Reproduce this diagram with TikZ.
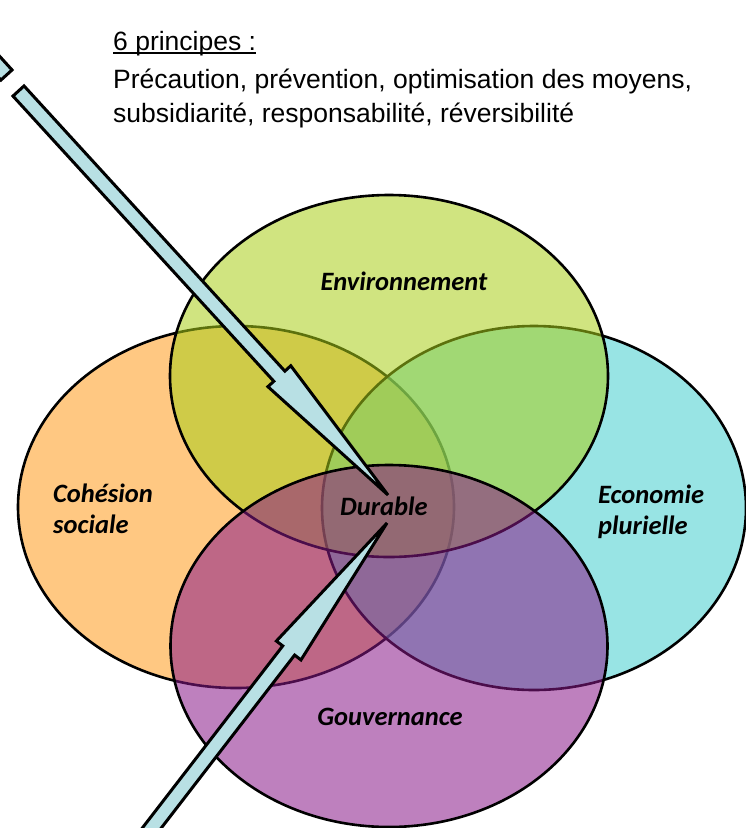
\documentclass[tikz,border=0pt]{standalone}
\usepackage{fontspec}
\setmainfont{Liberation Sans}
\newfontfamily\labelfont{Carlito}
\usetikzlibrary{calc,shapes.geometric}

% set colours (used with partial fill opacity)
\definecolor{cohcol}{RGB}{255,155,28}
\definecolor{ecocol}{RGB}{68,206,206}
\definecolor{envcol}{RGB}{169,206,24}
\definecolor{govcol}{RGB}{137,24,137}
\definecolor{arrowcol}{RGB}{184,224,228}

\tikzset{
  setshape/.style={ellipse, draw=black, line width=2.6pt, fill opacity=0.55,
    inner sep=0pt, minimum width=#1},
  lbl/.style={font=\labelfont\bfseries\itshape\fontsize{26.5}{31.5}\selectfont,
    text=black, inner sep=0pt},
  blockarrow/.style={draw=black, line width=3pt, fill=arrowcol, line join=miter},
  headtext/.style={font=\fontsize{26.5}{34}\selectfont, inner sep=0pt, anchor=base west}
}

% block arrow from tail #1 to tip #2, head base at #3
\newcommand\blockarrowshape[3]{%
  \draw[blockarrow]
    ($(#1)!7.5pt!90:(#2)$) -- ($(#3)!7.5pt!90:(#2)$) -- ($(#3)!15.5pt!90:(#2)$)
    -- (#2)
    -- ($(#3)!15.5pt!-90:(#2)$) -- ($(#3)!7.5pt!-90:(#2)$) -- ($(#1)!7.5pt!-90:(#2)$)
    -- cycle;}

\begin{document}
\begin{tikzpicture}[x=1pt,y=-1pt]
\useasboundingbox (0,0) rectangle (746,828);
\clip (0,0) rectangle (746,828);

% the four overlapping sets
\node[setshape=436pt, minimum height=362pt, fill=cohcol] (coh) at (236,507) {};
\node[setshape=424pt, minimum height=364pt, fill=ecocol] (eco) at (534,508) {};
\node[setshape=438pt, minimum height=362pt, fill=envcol] (env) at (389,376) {};
\node[setshape=437pt, minimum height=362pt, fill=govcol] (gov) at (389,646) {};

% set labels
\node[lbl] (envlbl) at (404,281) {Environnement};
\node[lbl, align=left, anchor=west] (cohlbl) at (53,509) {Cohésion\\sociale};
\node[lbl, align=left, anchor=west] (ecolbl) at (598,512) {Economie\\plurielle};
\node[lbl] (durlbl) at (384,506) {Durable};
\node[lbl] (govlbl) at (390,717) {Gouvernance};

% header text, title underlined
\node[headtext] (title) at (113,50) {6 principes :};
\draw[line width=1.8pt] ($(title.base west)+(0,3)$) -- ($(title.base east)+(0,3)$);
\node[headtext] (principlesA) at (113,88) {Précaution, prévention, optimisation des moyens,};
\node[headtext] (principlesB) at (113,122) {subsidiarité, responsabilité, réversibilité};

% arrow from the principles down to the centre
\coordinate (tailA) at (18.5,91);
\coordinate (tipA) at (388,495);
\coordinate (baseA) at ($(tipA)!161pt!(tailA)$);
\blockarrowshape{tailA}{tipA}{baseA}

% detached shaft piece at the upper-left corner
\coordinate (pieceEnd) at (6.5,75);
\coordinate (pieceStart) at ($(pieceEnd)!-80pt!(tipA)$);
\draw[blockarrow]
  ($(pieceStart)!7.5pt!90:(pieceEnd)$) -- ($(pieceEnd)!7.5pt!-90:(pieceStart)$)
  -- ($(pieceEnd)!7.5pt!90:(pieceStart)$) -- ($(pieceStart)!7.5pt!-90:(pieceEnd)$) -- cycle;

% arrow from below up to the centre
\coordinate (tailB) at (119.4,870);
\coordinate (tipB) at (387,523);
\coordinate (baseB) at ($(tipB)!161pt!(tailB)$);
\blockarrowshape{tailB}{tipB}{baseB}
\end{tikzpicture}
\end{document}
